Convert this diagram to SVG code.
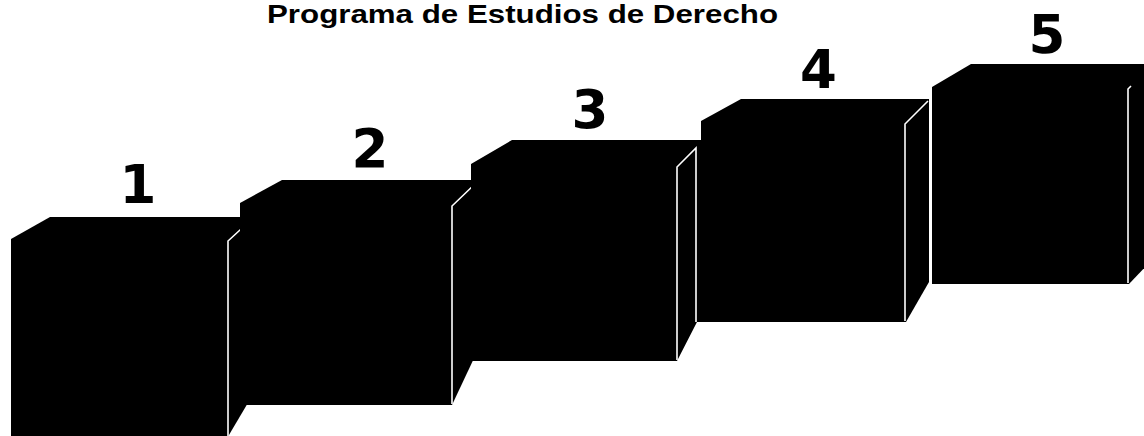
<svg xmlns="http://www.w3.org/2000/svg" width="1144" height="436" viewBox="0 0 1144 436">
<style>
.box{fill:#000;stroke:none}
.edge{fill:none;stroke:#fff;stroke-width:1.6;stroke-linejoin:miter}
.num{font-family:"DejaVu Sans",sans-serif;font-weight:bold;font-size:53px;fill:#000;text-anchor:middle}
.title{font-family:"Liberation Sans",Arial,sans-serif;font-weight:bold;font-size:25px;fill:#000;text-anchor:middle}
</style>
<rect width="1144" height="436" fill="#fff"/>
<text class="title" x="522.5" y="23" textLength="511" lengthAdjust="spacingAndGlyphs">Programa de Estudios de Derecho</text>
<g id="box1">
<polygon class="box" points="11,239 50,217 252,217 252,396 226,440 11,440"/>
<polyline class="edge" points="228,437 228,241 252,219"/>
<text class="num" x="138" y="203">1</text>
</g>
<g id="box2">
<polygon class="box" points="240,203 282,180 476,180 476,354 452,405 240,405"/>
<polyline class="edge" points="452,404 452,206 476,183"/>
<text class="num" x="370" y="167">2</text>
</g>
<g id="box3">
<polygon class="box" points="471,164 512,140 701,140 701,322 697,322 677,361 471,361"/>
<polyline class="edge" points="677,360 677,167 696,148 696,322"/>
<text class="num" x="590" y="128">3</text>
</g>
<g id="box4">
<polygon class="box" points="701,121 741,99 929,99 929,282 906,322 701,322"/>
<polyline class="edge" points="905,321 905,124 928,101"/>
<text class="num" x="818.5" y="88">4</text>
</g>
<g id="box5">
<polygon class="box" points="932,87 971,64 1150,64 1150,262 1129,284 932,284"/>
<polyline class="edge" points="1128,283 1128,89 1131,86"/>
<text class="num" x="1047" y="53">5</text>
</g>
</svg>
